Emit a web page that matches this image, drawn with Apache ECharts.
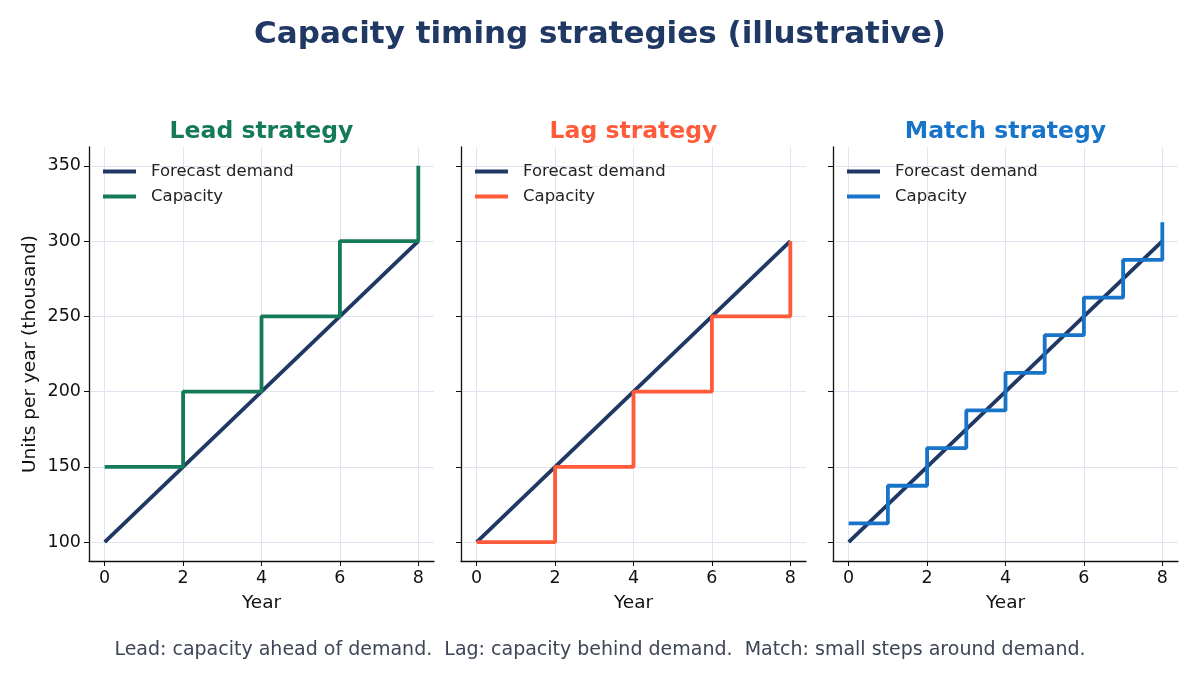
<!DOCTYPE html>
<html><head><meta charset="utf-8">
<script src="https://cdn.jsdelivr.net/npm/echarts@6/dist/echarts.min.js"></script>
<style>html,body{margin:0;padding:0;background:#fff}#c{width:1200px;height:675px}</style>
</head><body><div id="c"></div>
<script>
const demandYears = [0, 8];
const demandValues = [100, 300];
const leadYears = [0, 2, 4, 6, 8];
const leadCapacity = [150, 200, 250, 300, 350];
const lagYears = [0, 2, 4, 6, 8];
const lagCapacity = [100, 150, 200, 250, 300];
const matchYears = [0, 1, 2, 3, 4, 5, 6, 7, 8];
const matchCapacity = [112.5, 137.5, 162.5, 187.5, 212.5, 237.5, 262.5, 287.5, 312.5];
const xTicks = [0, 2, 4, 6, 8];
const yTicks = [100, 150, 200, 250, 300, 350];
const panelTitles = ['Lead strategy', 'Lag strategy', 'Match strategy'];
const panelKeys = ['lead', 'lag', 'match'];

const FONT = 'DejaVu Sans';
const navy = '#1f3864';
const colors = ['#157a5a', '#ff5b3b', '#1874c9'];
const lefts = [89, 461, 833];
const W = 345, TOP = 147, H = 414;
const pair = (xs, ys) => xs.map((x, i) => [x, ys[i]]);
const capData = [pair(leadYears, leadCapacity), pair(lagYears, lagCapacity), pair(matchYears, matchCapacity)];

const grids = [], xAxes = [], yAxes = [], series = [], legends = [], titles = [];
titles.push({text: 'Capacity timing strategies (illustrative)', left: 'center', top: 14,
  textStyle: {fontFamily: FONT, fontSize: 31, fontWeight: 'bold', color: navy}});
titles.push({text: 'Lead: capacity ahead of demand.  Lag: capacity behind demand.  Match: small steps around demand.',
  left: 'center', top: 636, textStyle: {fontFamily: FONT, fontSize: 19, fontWeight: 'normal', color: '#3d4556'}});
for (let i = 0; i < 3; i++) {
  grids.push({left: lefts[i], top: TOP, width: W, height: H, containLabel: false});
  titles.push({text: panelTitles[i], left: lefts[i] + W / 2 - 5, top: 115, textAlign: 'center',
    textStyle: {fontFamily: FONT, fontSize: 23.5, fontWeight: 'bold', color: colors[i]}});
  xAxes.push({type: 'value', gridIndex: i, min: -0.4, max: 8.4,
    name: 'Year', nameLocation: 'middle', nameGap: 33,
    nameTextStyle: {fontFamily: FONT, fontSize: 18.5, color: '#111'},
    axisLine: {show: true, onZero: false, lineStyle: {color: '#111', width: 1.3}},
    axisTick: {show: true, length: 5, customValues: xTicks, lineStyle: {color: '#111'}},
    axisLabel: {customValues: xTicks, fontFamily: FONT, fontSize: 17.5, color: '#111', margin: 8},
    splitLine: {show: true, lineStyle: {color: '#dfe5f0', width: 1}}});
  yAxes.push({type: 'value', gridIndex: i, min: 87.5, max: 362.5,
    name: i === 0 ? 'Units per year (thousand)' : '', nameLocation: 'middle', nameGap: 49,
    nameTextStyle: {fontFamily: FONT, fontSize: 18.5, color: '#111'},
    axisLine: {show: true, onZero: false, lineStyle: {color: '#111', width: 1.3}},
    axisTick: {show: true, length: 5, customValues: yTicks, lineStyle: {color: '#111'}},
    axisLabel: {show: i === 0, customValues: yTicks, fontFamily: FONT, fontSize: 17.5, color: '#111', margin: 8},
    splitLine: {show: true, lineStyle: {color: '#dfe5f0', width: 1}}});
  const dn = 'Forecast demand|' + panelKeys[i];
  const cn = 'Capacity|' + panelKeys[i];
  series.push({type: 'line', name: dn, xAxisIndex: i, yAxisIndex: i, data: pair(demandYears, demandValues),
    showSymbol: false, symbol: 'none', lineStyle: {color: navy, width: 3.8}, itemStyle: {color: navy},
    silent: true, animation: false, z: 2});
  series.push({type: 'line', name: cn, xAxisIndex: i, yAxisIndex: i, data: capData[i], step: 'end',
    showSymbol: false, symbol: 'none', lineStyle: {color: colors[i], width: 3.8}, itemStyle: {color: colors[i]},
    silent: true, animation: false, z: 3});
  legends.push({data: [dn, cn], orient: 'vertical', left: lefts[i] + 9, top: 158, itemGap: 8,
    icon: 'rect', itemWidth: 33, itemHeight: 4, selectedMode: false,
    formatter: n => n.split('|')[0],
    textStyle: {fontFamily: FONT, fontSize: 16.5, color: '#222', padding: [0, 0, 0, 10]}});
}
const chart = echarts.init(document.getElementById('c'), null, {renderer: 'canvas'});
chart.setOption({backgroundColor: '#fff', animation: false, title: titles, grid: grids,
  xAxis: xAxes, yAxis: yAxes, series: series, legend: legends});
</script></body></html>
